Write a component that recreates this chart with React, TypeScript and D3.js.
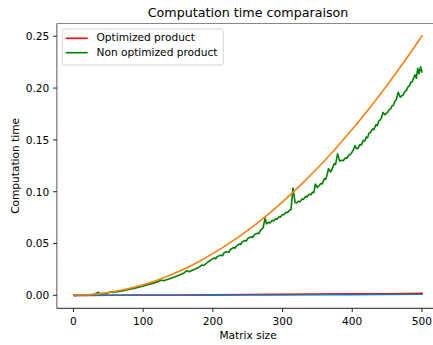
import React from "react";
import * as d3 from "d3";

const title = "Computation time comparaison";
const xLabel = "Matrix size";
const yLabel = "Computation time";
const legendLabels = ["Optimized product", "Non optimized product"];
const xTicks = [0, 100, 200, 300, 400, 500];
const yTicks = [0.0, 0.05, 0.1, 0.15, 0.2, 0.25];

// Non optimized product (green) measured times: [size, time]
const nonOptimized: [number, number][] = [
  [1, 0.0], [10, 0.0001], [20, 0.0004], [30, 0.0009], [34, 0.0026], [36, 0.003],
  [38, 0.0014], [45, 0.0019], [50, 0.0024], [53, 0.0034], [56, 0.0027], [63, 0.0034],
  [70, 0.0043], [77, 0.0054], [85, 0.0065], [92, 0.0077], [100, 0.009], [108, 0.0105],
  [115, 0.0118], [122, 0.0133], [126, 0.0148], [129, 0.014], [137, 0.0158], [145, 0.0178],
  [152, 0.0196], [158, 0.0214], [163, 0.0238], [166, 0.0228], [172, 0.0246], [180, 0.0272],
  [184, 0.0292], [187, 0.0288], [193, 0.0322], [198, 0.0345], [202, 0.0362], [204, 0.0352],
  [206, 0.0372], [211, 0.0388], [214, 0.0382], [216, 0.041], [220, 0.042], [223, 0.0415],
  [225, 0.0442], [230, 0.0462], [232, 0.0455], [234, 0.0478], [238, 0.0495], [240, 0.049],
  [242, 0.0515], [246, 0.053], [248, 0.0524], [250, 0.0548], [255, 0.0565], [257, 0.0558],
  [260, 0.0588], [264, 0.06], [266, 0.0596], [268, 0.0625], [272, 0.065], [275, 0.0745],
  [277, 0.069], [280, 0.0705], [282, 0.0698], [285, 0.0722], [287, 0.0718], [290, 0.0738],
  [292, 0.0735], [295, 0.0758], [297, 0.0755], [300, 0.078], [302, 0.0778], [305, 0.0802],
  [307, 0.0798], [310, 0.0822], [312, 0.0825], [315, 0.1035], [318, 0.0895], [320, 0.0892],
  [323, 0.0908], [325, 0.0902], [328, 0.093], [330, 0.0926], [333, 0.0955], [335, 0.095],
  [338, 0.0975], [341, 0.0972], [343, 0.0995], [345, 0.0992], [347, 0.1075], [350, 0.104],
  [353, 0.1062], [355, 0.108], [357, 0.1076], [360, 0.1125], [362, 0.1118], [364, 0.1165],
  [366, 0.1222], [369, 0.119], [371, 0.1215], [374, 0.127], [376, 0.1262], [379, 0.1365],
  [382, 0.1295], [385, 0.1305], [387, 0.1298], [390, 0.1325], [392, 0.132], [395, 0.1352],
  [397, 0.1358], [399, 0.1375], [401, 0.1395], [404, 0.1445], [406, 0.1418], [408, 0.1415],
  [411, 0.1455], [413, 0.145], [416, 0.1495], [418, 0.149], [420, 0.1528], [422, 0.152],
  [424, 0.1565], [426, 0.157], [429, 0.1605], [431, 0.1598], [434, 0.1645], [436, 0.164],
  [438, 0.168], [440, 0.169], [442, 0.1712], [444, 0.1765], [447, 0.1742], [449, 0.1758],
  [451, 0.1768], [453, 0.1792], [455, 0.1798], [457, 0.1828], [459, 0.1835], [461, 0.1872],
  [463, 0.1885], [466, 0.196], [469, 0.1912], [471, 0.1925], [473, 0.1932], [475, 0.1962],
  [478, 0.198], [480, 0.2012], [482, 0.202], [484, 0.2055], [486, 0.2058], [488, 0.2095],
  [490, 0.2128], [492, 0.2095], [494, 0.219], [496, 0.2138], [498, 0.2205], [500, 0.2155],
];

// Optimized product (red) measured times
const optimized: [number, number][] = [
  [1, 0.0], [50, 0.0001], [100, 0.0003], [150, 0.0004], [200, 0.0006], [250, 0.0008],
  [300, 0.001], [350, 0.0012], [400, 0.0014], [450, 0.0016], [500, 0.0019],
];

// Fit of optimized product (blue)
const optimizedFit: [number, number][] = [
  [1, 0.0], [100, 0.00005], [200, 0.0002], [300, 0.0004], [400, 0.0007], [500, 0.0011],
];

// Fit of non optimized product (orange)
const nonOptimizedFit: [number, number][] = [
  [1, 0.0003], [25, 0.0008], [50, 0.0027], [75, 0.0058], [100, 0.0102], [125, 0.0158],
  [150, 0.0227], [175, 0.0308], [200, 0.0402], [225, 0.0508], [250, 0.0627], [275, 0.0758],
  [300, 0.0902], [325, 0.1058], [350, 0.1227], [375, 0.1408], [400, 0.1602], [425, 0.1808],
  [450, 0.2027], [475, 0.2258], [500, 0.2502],
];

const W = 433;
const H = 345;
const left = 56.8;
const right = 439.3;
const top = 23.5;
const bottom = 308.3;
const font = "DejaVu Sans, sans-serif";

export default function App() {
  const x = d3.scaleLinear().domain([-23.95, 524.95]).range([left, right]);
  const y = d3.scaleLinear().domain([-0.0125, 0.2623]).range([bottom, top]);
  const line = d3
    .line<[number, number]>()
    .x((d) => x(d[0]))
    .y((d) => y(d[1]));
  const smooth = d3
    .line<[number, number]>()
    .x((d) => x(d[0]))
    .y((d) => y(d[1]))
    .curve(d3.curveCatmullRom);

  return (
    <svg
      width={W}
      height={H}
      style={{ position: "absolute", left: 0, top: 0, background: "#fff" }}
      fontFamily={font}
    >
      <defs>
        <clipPath id="plot">
          <rect x={left} y={top} width={right - left} height={bottom - top} />
        </clipPath>
      </defs>
      <rect x={0} y={0} width={W} height={H} fill="#fff" />
      <g clipPath="url(#plot)" fill="none" strokeWidth={1.6} strokeLinejoin="round" strokeLinecap="square">
        <path d={line(optimized) || ""} stroke="#ff0000" />
        <path d={line(nonOptimized) || ""} stroke="#008000" />
        <path d={smooth(optimizedFit) || ""} stroke="#1f77b4" />
        <path d={smooth(nonOptimizedFit) || ""} stroke="#ff7f0e" />
      </g>
      {/* spines */}
      <line x1={left} x2={left} y1={top} y2={bottom} stroke="#888" strokeWidth={1.4} />
      <line x1={left} x2={right} y1={top} y2={top} stroke="#888" strokeWidth={1.2} />
      <line x1={right} x2={right} y1={top} y2={bottom} stroke="#000" strokeWidth={0.85} />
      <line x1={left} x2={right} y1={bottom} y2={bottom} stroke="#222" strokeWidth={1} />
      {/* x ticks */}
      {xTicks.map((t) => (
        <g key={"x" + t}>
          <line x1={x(t)} x2={x(t)} y1={bottom} y2={bottom + 3.7} stroke="#000" strokeWidth={0.85} />
          <text x={x(t)} y={324.5} textAnchor="middle" fontSize={10.6} fill="#000">
            {t}
          </text>
        </g>
      ))}
      {/* y ticks */}
      {yTicks.map((t) => (
        <g key={"y" + t}>
          <line x1={left - 3.7} x2={left} y1={y(t)} y2={y(t)} stroke="#000" strokeWidth={0.85} />
          <text x={49.3} y={y(t)} dy="0.36em" textAnchor="end" fontSize={10.6} fill="#000">
            {t.toFixed(2)}
          </text>
        </g>
      ))}
      <text x={(left + right) / 2} y={338.5} textAnchor="middle" fontSize={10.6} fill="#000">
        {xLabel}
      </text>
      <text
        transform={`translate(18.6, ${(top + bottom) / 2}) rotate(-90)`}
        textAnchor="middle"
        fontSize={10.6}
        fill="#000"
      >
        {yLabel}
      </text>
      <text x={(left + right) / 2} y={16.6} textAnchor="middle" fontSize={12.7} fill="#000">
        {title}
      </text>
      {/* legend */}
      <g>
        <rect x={62.3} y={29} width={161} height={36} rx={2.5} fill="#fff" fillOpacity={0.8} stroke="#cccccc" strokeWidth={0.85} />
        {legendLabels.map((lab, i) => (
          <g key={lab}>
            <line x1={65.7} x2={87.7} y1={38.3 + i * 14.4} y2={38.3 + i * 14.4} stroke={i === 0 ? "#ff0000" : "#008000"} strokeWidth={1.6} />
            <text x={96.5} y={41.2 + i * 14.4} fontSize={10.6} fill="#000">
              {lab}
            </text>
          </g>
        ))}
      </g>
    </svg>
  );
}
